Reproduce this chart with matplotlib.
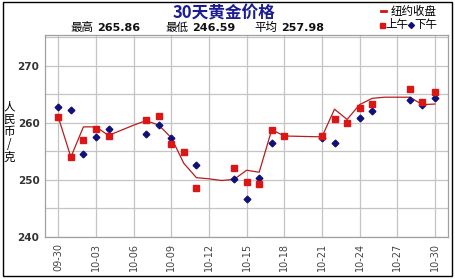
import matplotlib

matplotlib.use("Agg")
import matplotlib.pyplot as plt  # noqa: E402
import numpy as np  # noqa: E402
from matplotlib.patches import Rectangle  # noqa: E402

CJK = ["Noto Sans CJK SC", "DejaVu Sans"]
nan = np.nan

# 09-30 .. 10-30, one entry per day
dates = ["09-30"] + [f"10-{d:02d}" for d in range(1, 31)]

# 纽约收盘 (line)
close = [261.0, 254.0, 259.3, 259.3, 257.8, 258.7, 259.6, 260.4, 259.6, 257.4,
         252.9, 250.4, 250.2, 249.9, 250.1, 251.7, 251.35, 258.8, 257.7, 257.65,
         257.6, 257.55, 262.4, 260.6, 263.2, 264.3, 264.5, 264.5, 264.5, 263.2,
         263.3]
# 上午 (red squares)
am = [261.05, 254.0, 257.0, 258.9, 257.7, nan, nan, 260.5, 261.2, 256.3,
      254.9, 248.5, nan, nan, 252.05, 249.6, 249.25, 258.8, 257.7, nan,
      nan, 257.7, 260.65, 259.95, 262.6, 263.3, nan, nan, 265.86, 263.7,
      265.4]
# 下午 (blue diamonds)
pm = [262.75, 262.2, 254.5, 257.5, 258.9, nan, nan, 258.1, 259.6, 257.4,
      nan, 252.6, nan, nan, 250.1, 246.59, 250.3, 256.5, nan, nan,
      nan, 257.3, 256.4, nan, 260.8, 262.05, nan, nan, 264.0, 263.2,
      264.3]

stats = [("最高", "265.86"), ("最低", "246.59"), ("平均", "257.98")]

W, H = 455, 279
fig = plt.figure(figsize=(W / 100, H / 100), dpi=100)
fig.patch.set_facecolor("white")


def fx(px):
    return px / W


def fy(py):
    return 1 - py / H


ax = fig.add_axes([fx(45), fy(237), fx(447.5) - fx(45), fy(35) - fy(237)])
x = np.arange(len(dates))

ax.plot(x, close, color="#b81c1c", lw=0.9, zorder=3)
ax.plot(x, pm, ls="none", marker="D", ms=3.4, color="#10107a", zorder=4)
ax.plot(x, am, ls="none", marker="s", ms=4.2, color="#dd1515", zorder=5)

ax.set_xlim(-1.06, 31)
ax.set_ylim(240, 275.4)
ax.set_xticks(x[::3])
ax.set_xticklabels(dates[::3], rotation=90, fontsize=7, color="#444444")
ax.set_yticks([240, 250, 260, 270])
ax.set_yticklabels(["240", "250", "260", "270"], fontsize=7.5,
                   fontweight="bold", color="#333333")
ax.set_yticks(np.arange(240, 276, 5), minor=True)
ax.tick_params(which="both", length=0, pad=4)
ax.grid(True, which="both", color="#c4c4c4", lw=0.9)
ax.set_axisbelow(True)
for s in ax.spines.values():
    s.set_color("#a0a0a0")
    s.set_linewidth(0.9)

# outer frame
fig.patches.append(Rectangle((fx(3), fy(276)), fx(452) - fx(3),
                             fy(2) - fy(276), transform=fig.transFigure,
                             fill=False, ec="black", lw=1))

fig.text(fx(224), fy(13), "30天黄金价格", family=CJK, fontsize=12,
         fontweight="bold", color="#1c1c96", ha="center", va="center")

lab_x = [70, 165, 254]
num_x = [97, 192, 281]
for (lab, num), lx, nx in zip(stats, lab_x, num_x):
    fig.text(fx(lx), fy(27.5), lab, family=CJK, fontsize=8.3,
             color="black", ha="left", va="center")
    fig.text(fx(nx), fy(28), num, family="DejaVu Sans", fontsize=8,
             fontweight="bold", color="#111111", ha="left", va="center")

# legend
fig.add_artist(plt.Line2D([fx(381), fx(386)], [fy(11), fy(11)],
                          color="#cc1515", lw=2, transform=fig.transFigure))
fig.text(fx(391), fy(11), "纽约收盘", family=CJK, fontsize=8.3,
         ha="left", va="center")
fig.add_artist(plt.Line2D([fx(382)], [fy(24.5)], ls="none", marker="s",
                          ms=3.6, color="#dd1515",
                          transform=fig.transFigure))
fig.text(fx(385), fy(24.5), "上午", family=CJK, fontsize=8.3,
         ha="left", va="center")
fig.add_artist(plt.Line2D([fx(411)], [fy(24.5)], ls="none", marker="D",
                          ms=3, color="#10107a",
                          transform=fig.transFigure))
fig.text(fx(414), fy(24.5), "下午", family=CJK, fontsize=8.3,
         ha="left", va="center")

# y unit, stacked vertically
fig.text(fx(9), fy(132), "人\n民\n币\n/\n克", family=CJK, fontsize=8.3,
         ha="center", va="center", linespacing=0.95)

fig.savefig("out.png", dpi=100, facecolor="white")
